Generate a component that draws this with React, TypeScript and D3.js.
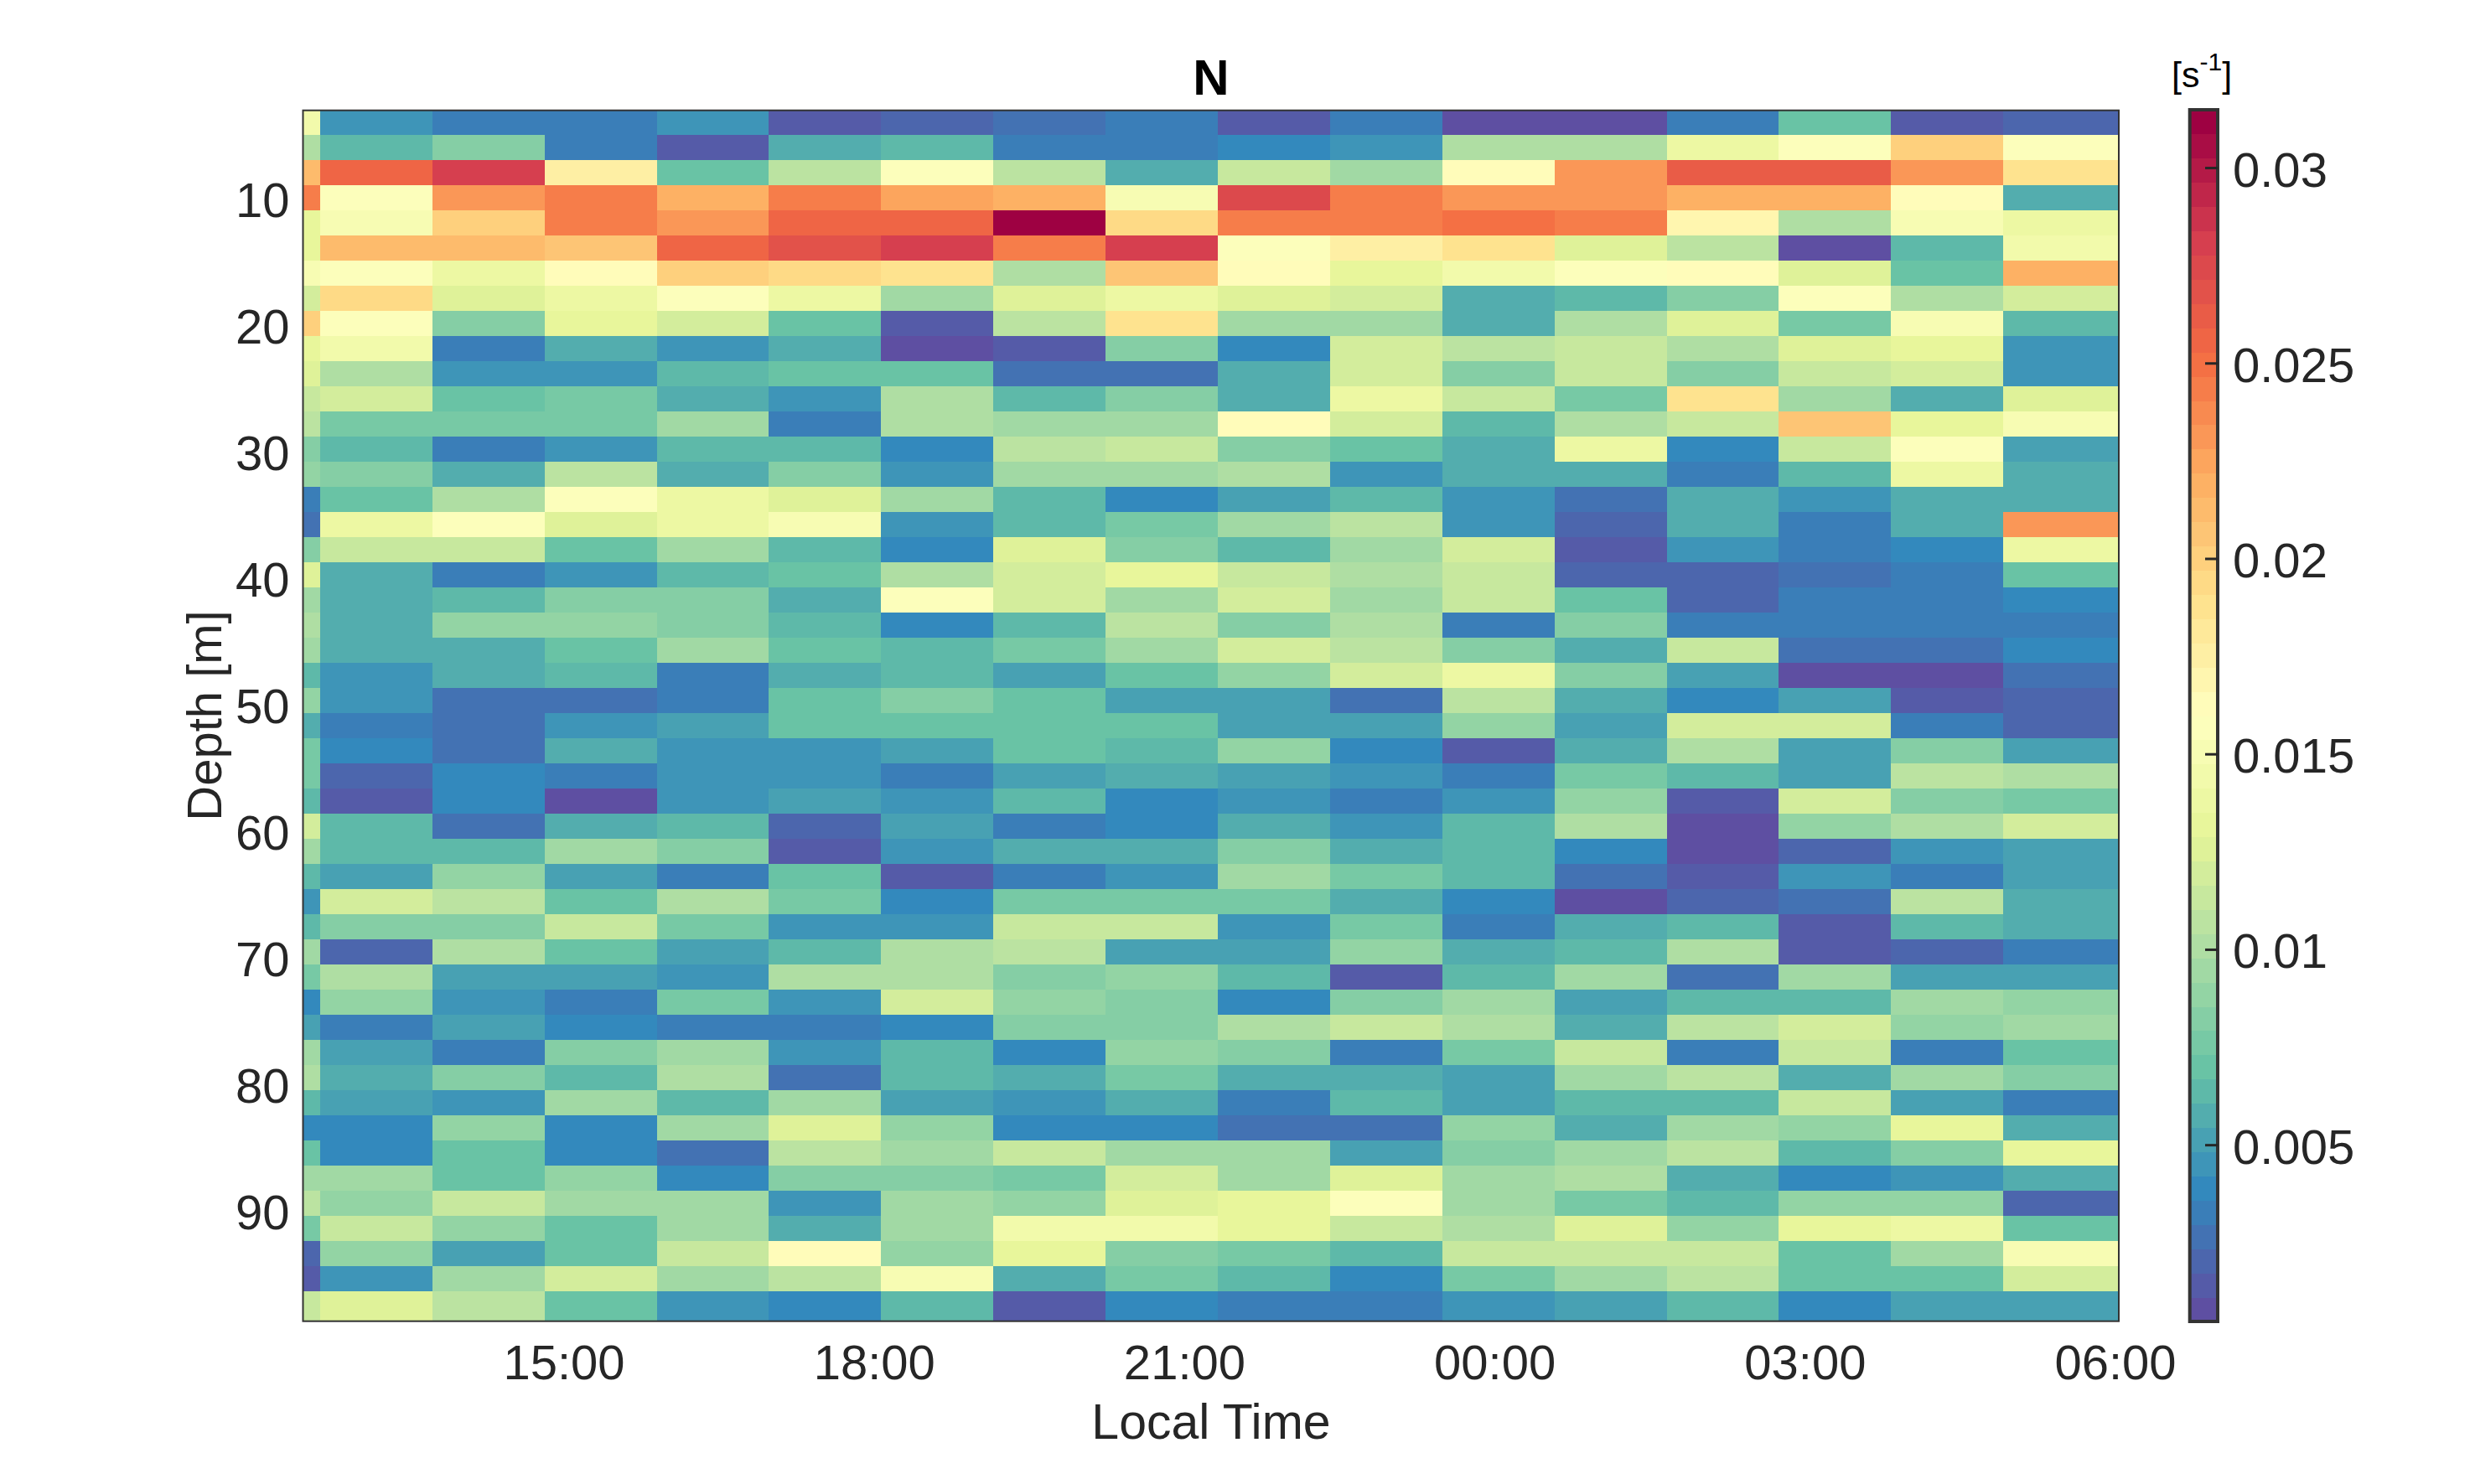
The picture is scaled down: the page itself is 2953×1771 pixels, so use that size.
import React, { useEffect, useRef } from 'react'
import * as d3 from 'd3'

// hours since midnight of the first day, 06:00 next day = 30
const timeTicks = [15, 18, 21, 24, 27, 30]
const timeLabels = ['15:00', '18:00', '21:00', '00:00', '03:00', '06:00']
const depthTicks = [10, 20, 30, 40, 50, 60, 70, 80, 90]
const colorTicks = [0.005, 0.01, 0.015, 0.02, 0.025, 0.03]
const colorTickLabels = ['0.005', '0.01', '0.015', '0.02', '0.025', '0.03']

const timeLim: [number, number] = [12.463, 30.02]
const depthLim: [number, number] = [2.83, 98.53]
const colorLim: [number, number] = [0.00048, 0.03148]

// bin edges of the gridded profile
const firstTimeEdge = 12.628
const timeStep = 1.085
const firstDepthEdge = 4.79
const depthStep = 1.987

// N [1/s], one line per depth bin, one value per time bin
const N: number[][] = [
  [.0145, .0048, .0030, .0030, .0048, .0014, .0022, .0026, .0030, .0014, .0030, .0008, .0008, .0032, .0068, .0014, .0022],
  [.0099, .0066, .0080, .0030, .0014, .0060, .0066, .0030, .0030, .0036, .0045, .0099, .0099, .0136, .0155, .0200, .0155],
  [.0213, .0255, .0278, .0175, .0072, .0105, .0158, .0107, .0055, .0114, .0092, .0165, .0232, .0265, .0265, .0232, .0185],
  [.0245, .0158, .0232, .0245, .0218, .0245, .0226, .0216, .0150, .0275, .0245, .0232, .0228, .0218, .0218, .0165, .0055],
  [.0132, .0148, .0203, .0243, .0232, .0255, .0255, .0314, .0195, .0245, .0245, .0252, .0246, .0172, .0100, .0148, .0138],
  [.0130, .0212, .0212, .0207, .0255, .0268, .0283, .0245, .0283, .0158, .0175, .0185, .0128, .0107, .0006, .0062, .0147],
  [.0150, .0158, .0137, .0160, .0203, .0195, .0187, .0100, .0205, .0160, .0133, .0147, .0157, .0165, .0127, .0072, .0220],
  [.0118, .0195, .0127, .0136, .0158, .0138, .0094, .0128, .0138, .0127, .0120, .0060, .0066, .0085, .0158, .0100, .0118],
  [.0200, .0158, .0080, .0130, .0122, .0072, .0014, .0105, .0185, .0092, .0092, .0060, .0102, .0127, .0078, .0148, .0066],
  [.0133, .0146, .0030, .0055, .0045, .0060, .0008, .0014, .0085, .0038, .0122, .0107, .0113, .0100, .0127, .0132, .0045],
  [.0128, .0100, .0045, .0045, .0066, .0072, .0072, .0024, .0028, .0060, .0122, .0085, .0112, .0085, .0113, .0122, .0045],
  [.0112, .0122, .0072, .0078, .0055, .0045, .0100, .0066, .0085, .0060, .0137, .0113, .0078, .0188, .0094, .0060, .0127],
  [.0110, .0078, .0078, .0078, .0092, .0034, .0100, .0094, .0092, .0160, .0122, .0066, .0099, .0112, .0205, .0133, .0148],
  [.0080, .0064, .0034, .0045, .0066, .0066, .0040, .0105, .0114, .0084, .0072, .0060, .0136, .0036, .0112, .0158, .0052],
  [.0090, .0080, .0060, .0105, .0060, .0085, .0042, .0094, .0094, .0099, .0045, .0060, .0060, .0030, .0066, .0137, .0060],
  [.0034, .0072, .0100, .0158, .0138, .0128, .0094, .0066, .0038, .0052, .0062, .0046, .0028, .0060, .0045, .0060, .0060],
  [.0026, .0138, .0158, .0128, .0137, .0148, .0045, .0066, .0078, .0094, .0105, .0045, .0022, .0060, .0030, .0060, .0232],
  [.0085, .0113, .0113, .0072, .0094, .0066, .0036, .0125, .0085, .0066, .0094, .0122, .0014, .0045, .0030, .0036, .0138],
  [.0127, .0060, .0034, .0044, .0066, .0072, .0100, .0122, .0135, .0113, .0103, .0113, .0022, .0022, .0025, .0030, .0072],
  [.0094, .0060, .0066, .0080, .0080, .0060, .0158, .0122, .0095, .0122, .0094, .0113, .0067, .0022, .0030, .0030, .0036],
  [.0099, .0060, .0088, .0088, .0080, .0066, .0040, .0066, .0105, .0084, .0100, .0034, .0085, .0030, .0030, .0033, .0033],
  [.0094, .0060, .0060, .0072, .0094, .0072, .0066, .0078, .0095, .0122, .0106, .0082, .0060, .0112, .0024, .0024, .0036],
  [.0066, .0048, .0060, .0066, .0030, .0060, .0066, .0053, .0072, .0088, .0122, .0140, .0080, .0054, .0008, .0008, .0029],
  [.0088, .0048, .0028, .0028, .0030, .0072, .0085, .0072, .0054, .0054, .0028, .0106, .0060, .0036, .0054, .0014, .0022],
  [.0060, .0032, .0028, .0048, .0054, .0072, .0068, .0072, .0073, .0052, .0052, .0086, .0052, .0122, .0122, .0032, .0022],
  [.0075, .0036, .0028, .0060, .0045, .0045, .0054, .0072, .0066, .0088, .0036, .0014, .0060, .0100, .0054, .0080, .0052],
  [.0075, .0022, .0036, .0032, .0045, .0045, .0032, .0050, .0058, .0052, .0045, .0032, .0078, .0066, .0054, .0106, .0100],
  [.0062, .0016, .0036, .0008, .0045, .0052, .0044, .0066, .0036, .0045, .0033, .0045, .0088, .0014, .0122, .0080, .0074],
  [.0118, .0066, .0028, .0060, .0066, .0022, .0053, .0032, .0040, .0060, .0044, .0066, .0099, .0008, .0088, .0100, .0122],
  [.0094, .0066, .0066, .0094, .0080, .0017, .0042, .0056, .0056, .0080, .0060, .0066, .0036, .0008, .0018, .0044, .0052],
  [.0066, .0052, .0088, .0052, .0030, .0072, .0016, .0032, .0042, .0094, .0074, .0066, .0024, .0014, .0042, .0032, .0052],
  [.0048, .0122, .0105, .0072, .0100, .0076, .0036, .0075, .0078, .0076, .0060, .0036, .0008, .0022, .0028, .0106, .0058],
  [.0066, .0080, .0080, .0113, .0074, .0045, .0045, .0113, .0113, .0044, .0074, .0034, .0060, .0066, .0014, .0066, .0058],
  [.0092, .0022, .0100, .0072, .0052, .0066, .0100, .0108, .0052, .0052, .0086, .0060, .0064, .0100, .0014, .0022, .0034],
  [.0078, .0100, .0054, .0052, .0045, .0100, .0100, .0082, .0086, .0064, .0014, .0066, .0094, .0029, .0094, .0053, .0052],
  [.0036, .0088, .0045, .0032, .0078, .0044, .0122, .0086, .0080, .0036, .0080, .0094, .0050, .0066, .0066, .0094, .0086],
  [.0050, .0032, .0052, .0036, .0031, .0031, .0036, .0080, .0080, .0100, .0113, .0100, .0060, .0106, .0122, .0088, .0094],
  [.0094, .0052, .0032, .0085, .0094, .0042, .0066, .0038, .0086, .0080, .0034, .0074, .0114, .0033, .0113, .0030, .0072],
  [.0100, .0060, .0082, .0066, .0100, .0029, .0066, .0059, .0074, .0058, .0058, .0052, .0094, .0106, .0058, .0094, .0080],
  [.0062, .0053, .0045, .0092, .0066, .0094, .0052, .0044, .0060, .0034, .0066, .0052, .0066, .0066, .0113, .0052, .0030],
  [.0040, .0036, .0088, .0036, .0092, .0128, .0088, .0040, .0036, .0026, .0026, .0086, .0058, .0094, .0086, .0132, .0058],
  [.0070, .0036, .0072, .0036, .0026, .0105, .0095, .0115, .0095, .0095, .0052, .0082, .0096, .0105, .0066, .0080, .0133],
  [.0094, .0094, .0072, .0088, .0036, .0080, .0080, .0075, .0120, .0097, .0128, .0095, .0098, .0058, .0036, .0042, .0058],
  [.0108, .0088, .0113, .0094, .0094, .0044, .0094, .0087, .0125, .0133, .0158, .0094, .0078, .0066, .0090, .0086, .0018],
  [.0074, .0115, .0088, .0072, .0094, .0058, .0094, .0142, .0143, .0134, .0113, .0100, .0125, .0086, .0134, .0138, .0070],
  [.0022, .0086, .0052, .0072, .0113, .0160, .0086, .0131, .0082, .0078, .0066, .0113, .0113, .0113, .0072, .0094, .0148],
  [.0014, .0045, .0094, .0122, .0094, .0106, .0150, .0058, .0078, .0066, .0036, .0078, .0094, .0106, .0072, .0072, .0122],
  [.0113, .0128, .0106, .0072, .0045, .0036, .0066, .0014, .0036, .0030, .0030, .0044, .0052, .0066, .0040, .0052, .0052],
]

const nLevels = 50

const App: React.FC = () => {
  const svgRef = useRef<SVGSVGElement | null>(null)

  useEffect(() => {
    if (!svgRef.current) return

    const svg = d3.select(svgRef.current)
    svg.selectAll('*').remove()
    const width = 2953
    const height = 1771
    const box = { left: 361.5, right: 2528, top: 131.7, bottom: 1576.7 }
    const bar = { left: 2612.7, right: 2646, top: 131, bottom: 1577 }
    const ink = '#262626'
    const font = '"Liberation Sans", Arial, sans-serif'

    svg
      .attr('width', width)
      .attr('height', height)
      .attr('viewBox', [0, 0, width, height])
      .style('position', 'absolute')
      .style('left', 0)
      .style('top', 0)
      .style('font-family', font)

    const x = d3.scaleLinear().domain(timeLim).range([box.left, box.right])
    const y = d3.scaleLinear().domain(depthLim).range([box.top, box.bottom])
    const c = d3.scaleLinear().domain(colorLim).range([bar.bottom, bar.top])

    // brewer Spectral, straight segments between the anchors, low values blue
    const spectral = d3.piecewise(d3.interpolateRgb, [...d3.schemeSpectral[11]].reverse())
    const palette = d3.quantize(spectral, nLevels)
    const color = d3.scaleQuantize<string>().domain(colorLim).range(palette)

    const timeEdges = [timeLim[0], ...N[0].slice(1).map((_, i) => firstTimeEdge + i * timeStep), timeLim[1]]
    const depthEdges = [depthLim[0], ...N.slice(1).map((_, i) => firstDepthEdge + i * depthStep), depthLim[1]]

    const cells = N.flatMap((row, r) => row.map((v, k) => ({ r, k, v })))

    svg
      .append('g')
      .attr('shape-rendering', 'crispEdges')
      .selectAll('rect')
      .data(cells)
      .join('rect')
      .attr('x', d => x(timeEdges[d.k]))
      .attr('y', d => y(depthEdges[d.r]))
      .attr('width', d => x(timeEdges[d.k + 1]) - x(timeEdges[d.k]))
      .attr('height', d => y(depthEdges[d.r + 1]) - y(depthEdges[d.r]))
      .attr('fill', d => color(d.v))

    svg
      .append('rect')
      .attr('x', box.left)
      .attr('y', box.top)
      .attr('width', box.right - box.left)
      .attr('height', box.bottom - box.top)
      .attr('fill', 'none')
      .attr('stroke', '#333')
      .attr('stroke-width', 2)

    const styleAxis = (g: d3.Selection<SVGGElement, unknown, null, undefined>) => {
      g.select('.domain').remove()
      g.selectAll('.tick text').attr('fill', ink).style('font-size', '58px').style('font-family', font)
    }

    svg
      .append('g')
      .attr('transform', `translate(0,${box.bottom})`)
      .call(
        d3
          .axisBottom(x)
          .tickValues(timeTicks)
          .tickSize(0)
          .tickPadding(28)
          .tickFormat((d, i) => timeLabels[i]),
      )
      .call(styleAxis)
      .call(g => g.attr('transform', `translate(-2,${box.bottom})`))

    svg
      .append('g')
      .attr('transform', `translate(${box.left},0)`)
      .call(d3.axisLeft(y).tickValues(depthTicks).tickSize(0).tickPadding(16).tickFormat(d3.format('d')))
      .call(styleAxis)

    svg
      .append('text')
      .attr('x', 1445)
      .attr('y', 1717)
      .attr('text-anchor', 'middle')
      .attr('fill', ink)
      .style('font-size', '59px')
      .text('Local Time')

    svg
      .append('text')
      .attr('transform', 'translate(264,854) rotate(-90)')
      .attr('text-anchor', 'middle')
      .attr('fill', ink)
      .style('font-size', '58px')
      .text('Depth [m]')

    svg
      .append('text')
      .attr('x', 1445)
      .attr('y', 113)
      .attr('text-anchor', 'middle')
      .attr('fill', '#000')
      .style('font-size', '60px')
      .style('font-weight', 700)
      .text('N')

    // colorbar
    const levelStep = (colorLim[1] - colorLim[0]) / nLevels
    svg
      .append('g')
      .attr('shape-rendering', 'crispEdges')
      .selectAll('rect')
      .data(palette)
      .join('rect')
      .attr('x', bar.left)
      .attr('y', (d, i) => c(colorLim[0] + (i + 1) * levelStep))
      .attr('width', bar.right - bar.left)
      .attr('height', c(colorLim[0]) - c(colorLim[0] + levelStep) + 0.5)
      .attr('fill', d => d)

    svg
      .append('rect')
      .attr('x', bar.left)
      .attr('y', bar.top)
      .attr('width', bar.right - bar.left)
      .attr('height', bar.bottom - bar.top)
      .attr('fill', 'none')
      .attr('stroke', '#333')
      .attr('stroke-width', 4)

    svg
      .append('g')
      .attr('transform', `translate(${bar.right},0)`)
      .call(
        d3
          .axisRight(c)
          .tickValues(colorTicks)
          .tickSize(-15)
          .tickPadding(18)
          .tickFormat((d, i) => colorTickLabels[i]),
      )
      .call(styleAxis)
      .call(g => g.selectAll('.tick line').attr('stroke', ink).attr('stroke-width', 3))
      .call(g => g.selectAll('.tick text').attr('x', 18).attr('dy', '0.38em'))

    const unit = svg
      .append('text')
      .attr('x', 2591)
      .attr('y', 104)
      .attr('fill', '#000')
      .style('font-size', '43px')
    unit.append('tspan').text('[s')
    unit.append('tspan').attr('dy', -20).style('font-size', '30px').text('-1')
    unit.append('tspan').attr('dy', 20).text(']')
  }, [])

  return <svg ref={svgRef}></svg>
}

export default App
